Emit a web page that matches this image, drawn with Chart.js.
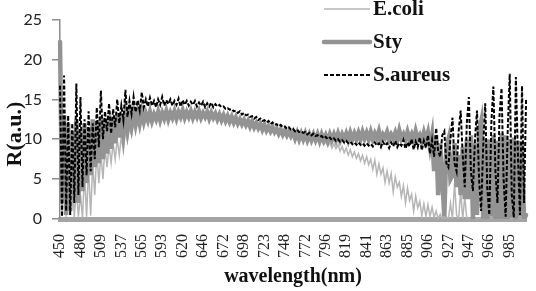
<!DOCTYPE html>
<html>
<head>
<meta charset="utf-8">
<script src="https://cdn.jsdelivr.net/npm/chart.js@4/dist/chart.umd.min.js"></script>
<style>
  html, body { margin: 0; padding: 0; background: #fff; }
  #wrap { width: 536px; height: 291px; position: relative; }
</style>
</head>
<body>
<div id="wrap"><canvas id="spectra"></canvas></div>
<script>
// x axis labels (wavelength, nm), one every 10 samples
const tickLabels = ['450', '480', '509', '537', '565', '593', '620', '646', '672', '698', '723', '748',
    '772', '796', '819', '841', '863', '885', '906', '927', '947', '966', '985'];
const samplesPerLabel = 10;

// reflectance values
const eColi = [
    11, 0.5, 9, 0.3, 7, 0.5, 5, 0.2, 3.9, 0.3,
    3, 0.2, 5.9, 0.3, 6.5, 0.4, 7, 3, 8.6, 4.5,
    8.2, 5, 9, 6.5, 9.2, 7, 9.5, 7.5, 10, 8,
    10.4, 8.5, 11, 9.8, 11.4, 10.5, 12, 11.2, 12.2, 11.6,
    12.4, 12.3, 12.9, 12.4, 13.0, 12.4, 12.9, 12.6, 13.1, 12.5,
    13.0, 12.6, 13.2, 12.7, 13.1, 12.7, 13.2, 12.8, 13.1, 12.8,
    13.3, 12.8, 13.2, 12.9, 13.2, 12.8, 13.1, 12.9, 13.2, 12.8,
    13.0, 12.8, 13.1, 12.7, 13.0, 12.7, 12.9, 12.6, 12.8, 12.5,
    12.7, 12.4, 12.5, 12.3, 12.4, 12.1, 12.3, 12.0, 12.1, 11.8,
    12.0, 11.7, 11.8, 11.5, 11.7, 11.4, 11.5, 11.2, 11.4, 11.1,
    11.2, 10.9, 11.1, 10.8, 11.0, 10.7, 10.9, 10.6, 10.8, 10.5,
    10.7, 10.4, 10.6, 10.3, 10.5, 10.2, 10.6, 10.1, 10.5, 10.0,
    10.4, 9.9, 10.3, 9.7, 10.1, 9.6, 10.0, 9.4, 9.9, 9.3,
    9.7, 9.1, 9.6, 8.9, 9.4, 8.8, 9.3, 8.5, 9.1, 8.3,
    8.9, 8.0, 8.7, 7.8, 8.4, 7.6, 8.2, 7.3, 8.0, 7.0,
    7.8, 6.8, 7.5, 6.2, 7.4, 5.6, 6.9, 5.6, 6.4, 4.6,
    6.0, 4.5, 5.7, 3.4, 5.3, 4.0, 4.6, 2.8, 4.2, 2.0,
    3.9, 2.3, 3.1, 1.0, 2.9, 1.4, 2.2, 0.4, 1.9, 0.3,
    1.8, 0.3, 1.5, 0.2, 1.0, 0, 0.6, 0, 0, 0.3,
    0, 2, 0, 4.5, 0.5, 0, 3.5, 0, 2.8, 0,
    0, 0, 0, 0, 0, 0, 0, 0, 0, 0,
    0, 0, 0, 0, 0, 0, 0, 0, 0, 0,
    0, 0, 0, 0, 0, 0, 0, 0, 0
];
const sty = [
    22.2, 2, 13, 0.5, 12, 1, 11, 3, 12.5, 2,
    11, 3.5, 12, 4.5, 11.5, 5.5, 12.5, 6.5, 12, 7,
    12.8, 7.5, 12.5, 8.2, 13, 8.8, 12.6, 9.5, 13, 10.2,
    13.2, 10.8, 13.3, 11.3, 13.2, 11.7, 13.4, 11.9, 13.3, 12.0,
    13.4, 12.2, 13.2, 12.4, 13.4, 12.3, 13.1, 12.5, 13.4, 12.4,
    13.3, 12.6, 13.5, 12.5, 13.3, 12.7, 13.5, 12.6, 13.4, 12.8,
    13.6, 12.7, 13.4, 12.8, 13.5, 12.7, 13.4, 12.8, 13.5, 12.7,
    13.3, 12.8, 13.4, 12.6, 13.3, 12.7, 13.2, 12.5, 13.1, 12.4,
    13.0, 12.3, 12.9, 12.2, 12.8, 12.1, 12.7, 12.0, 12.5, 11.9,
    12.4, 11.8, 12.3, 11.6, 12.2, 11.5, 12.0, 11.4, 11.9, 11.2,
    11.8, 11.1, 11.6, 11.0, 11.5, 10.9, 11.3, 10.7, 11.2, 10.6,
    11.1, 10.5, 11.0, 10.4, 10.9, 10.1, 10.8, 10.0, 10.7, 10.0,
    10.7, 9.9, 10.6, 9.9, 10.6, 9.9, 10.6, 9.8, 10.6, 9.9,
    10.5, 9.8, 10.6, 9.9, 10.6, 9.9, 10.7, 9.9, 10.6, 10.0,
    10.7, 9.9, 10.8, 10.0, 10.7, 10.0, 10.8, 10.0, 10.9, 10.1,
    10.8, 10.0, 10.9, 10.0, 10.7, 10.1, 11.0, 9.9, 10.6, 10.2,
    10.9, 10.0, 10.6, 10.1, 10.8, 9.9, 11.1, 10.1, 10.6, 9.9,
    10.9, 10.0, 10.6, 9.8, 11.0, 10.0, 10.5, 9.7, 10.8, 9.8,
    10.8, 9.0, 10.5, 6, 10.5, 3, 9.5, 5, 0.3, 9,
    10, 5, 5.5, 9.5, 4, 8, 3, 9, 2.5, 10,
    2.5, 10.5, 0, 9.5, 0.5, 11, 12.2, 0, 10, 0,
    10, 0.3, 10.5, 0, 9.8, 0, 10.7, 0, 10.5, 0,
    10, 0.2, 10.2, 0, 9.8, 0.3, 9.5, 0, 0.5
];
const sAureus = [
    16.7, 0.3, 18, 1, 13, 0.5, 12, 2, 17, 3,
    15.3, 4, 12.5, 5.5, 13.5, 6, 12, 7.5, 14, 9,
    16.1, 10, 13.5, 11, 14.5, 10.7, 13.8, 11.5, 15, 12,
    14.2, 12.4, 16.2, 12.8, 14.8, 13.2, 15.3, 13.4, 14.9, 13.6,
    15.9, 14.0, 15.0, 14.1, 15.2, 14.2, 14.8, 14.0, 15.0, 14.3,
    15.3, 14.2, 14.9, 14.4, 15.0, 14.2, 14.8, 14.3, 15.1, 14.1,
    14.9, 14.3, 14.8, 14.2, 14.7, 14.3, 14.8, 14.1, 14.6, 14.2,
    14.7, 14.0, 14.5, 14.1, 14.6, 14.0, 14.4, 14.1, 14.3, 14.0,
    14.1, 13.8, 13.9, 13.7, 13.8, 13.5, 13.6, 13.3, 13.5, 13.1,
    13.3, 13.0, 13.1, 12.8, 12.9, 12.6, 12.8, 12.4, 12.6, 12.3,
    12.4, 12.1, 12.3, 11.9, 12.1, 11.8, 11.9, 11.6, 11.8, 11.5,
    11.6, 11.3, 11.5, 11.2, 11.3, 11.0, 11.2, 10.9, 11.0, 10.8,
    10.9, 10.6, 10.8, 10.5, 10.7, 10.4, 10.5, 10.3, 10.4, 10.1,
    10.3, 10.0, 10.2, 9.9, 10.1, 9.8, 10.0, 9.7, 9.9, 9.6,
    9.8, 9.5, 9.7, 9.4, 9.6, 9.3, 9.6, 9.3, 9.5, 9.2,
    9.5, 9.2, 9.4, 9.1, 9.6, 9.2, 9.5, 9.0, 9.7, 9.2,
    9.5, 8.9, 9.6, 9.1, 9.8, 9.0, 9.5, 9.2, 9.9, 8.8,
    9.6, 9.1, 10.0, 8.7, 9.7, 9.0, 10.2, 8.6, 9.8, 8.9,
    10.5, 8.2, 9.9, 7.8, 11.4, 8.5, 7.8, 10.5, 11.0, 7,
    6.5, 10, 12.7, 7, 6.0, 11, 13.6, 8, 4.0, 12,
    15.3, 6, 3.5, 10, 13.6, 5, 1.0, 9, 14.5, 4,
    0.5, 12, 16.6, 6, 2.0, 13, 16.4, 5, 0.3, 11,
    18.2, 3, 0.2, 17.8, 8, 0.5, 16.7, 2, 15.1
];

const serif = "'Liberation Serif', 'Times New Roman', serif";

// titres d'axes + légende dessinés à la main
const overlay = {
    id: 'overlay',
    afterDraw(chart) {
        const ctx = chart.ctx;
        const area = chart.chartArea;
        ctx.save();
        ctx.fillStyle = '#111';

        // axis titles
        ctx.font = 'bold 20px ' + serif;
        ctx.textAlign = 'center';
        ctx.textBaseline = 'alphabetic';
        ctx.fillText('wavelength(nm)', (area.left + area.right) / 2, 282);

        ctx.save();
        ctx.font = 'bold 22px ' + serif;
        ctx.translate(21, 134);
        ctx.rotate(-Math.PI / 2);
        ctx.fillText('R(a.u.)', 0, 0);
        ctx.restore();

        // legend, top right inside the plot
        ctx.font = 'bold 21px ' + serif;
        ctx.textAlign = 'left';
        ctx.textBaseline = 'middle';
        chart.data.datasets.forEach((ds, i) => {
            const y = 9 + i * 33;
            ctx.save();
            ctx.strokeStyle = ds.borderColor;
            ctx.lineWidth = ds.borderWidth;
            ctx.lineCap = ds.borderCapStyle || 'butt';
            ctx.setLineDash(ds.borderDash || []);
            ctx.beginPath();
            ctx.moveTo(324, y);
            ctx.lineTo(370, y);
            ctx.stroke();
            ctx.restore();
            ctx.fillText(ds.label, 373, y + 1);
        });
        ctx.restore();
    }
};

new Chart(document.getElementById('spectra'), {
    type: 'line',
    data: {
        labels: sAureus.map((_, i) => i),
        datasets: [
            {
                label: 'E.coli',
                data: eColi,
                borderColor: '#b5b5b5',
                borderWidth: 1.5,
                order: 2
            },
            {
                label: 'Sty',
                data: sty,
                borderColor: '#939393',
                borderWidth: 4.5,
                borderCapStyle: 'round',
                order: 1
            },
            {
                label: 'S.aureus',
                data: sAureus,
                borderColor: '#000',
                borderWidth: 2,
                borderDash: [4, 2],
                order: 0
            }
        ]
    },
    options: {
        responsive: true,
        maintainAspectRatio: false,
        animation: false,
        layout: { padding: { top: 18, right: 2, left: 0, bottom: 0 } },
        elements: {
            point: { radius: 0 },
            line: { tension: 0, borderJoinStyle: 'miter' }
        },
        plugins: {
            legend: { display: false },
            tooltip: { enabled: false }
        },
        scales: {
            x: {
                type: 'category',
                grid: { display: false },
                border: { color: '#a4a4a4', width: 5 },
                ticks: {
                    autoSkip: false,
                    minRotation: 90,
                    maxRotation: 90,
                    padding: 7,
                    color: '#222',
                    font: { family: serif, size: 16 },
                    callback: (v, i) => i % samplesPerLabel === 0 ? tickLabels[i / samplesPerLabel] : null
                },
                afterFit: scale => { scale.height = 72; }
            },
            y: {
                min: 0,
                max: 25,
                ticks: {
                    stepSize: 5,
                    padding: 10,
                    color: '#222',
                    font: { family: 'Lato', size: 16 }
                },
                grid: {
                    drawOnChartArea: false,
                    tickLength: 8,
                    color: '#8c8c8c',
                    lineWidth: 1.5
                },
                border: { color: '#8c8c8c', width: 1.5 },
                afterFit: scale => { scale.width = 60; }
            }
        }
    },
    plugins: [overlay]
});
</script>
</body>
</html>
